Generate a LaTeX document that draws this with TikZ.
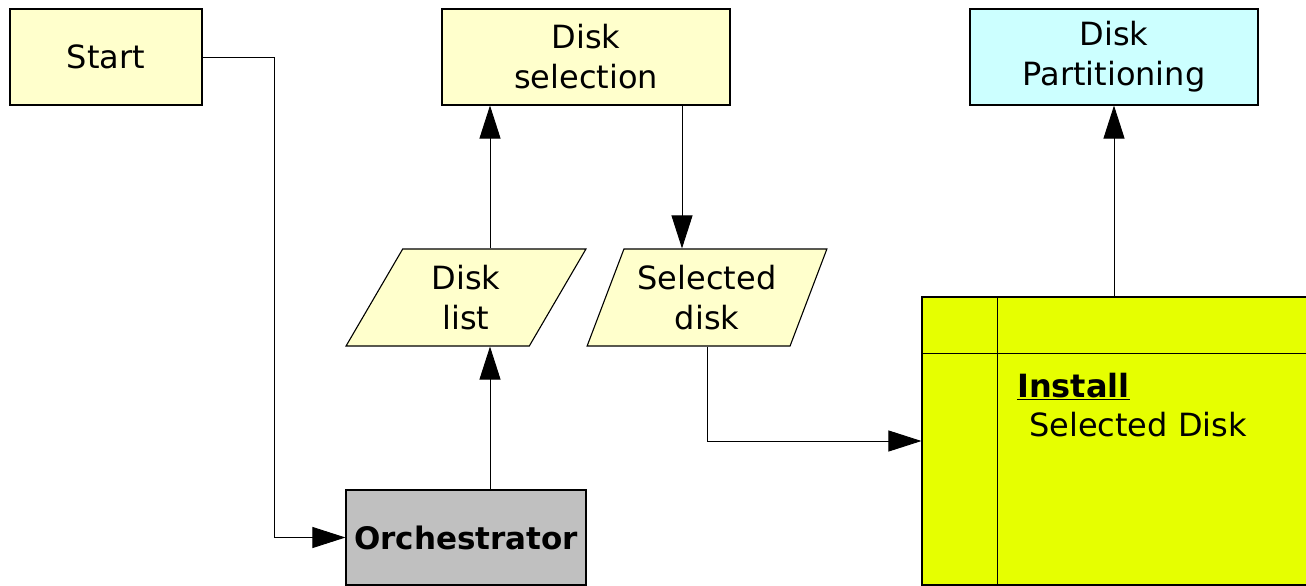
\documentclass[tikz,border=0pt]{standalone}
\usepackage{fontspec}
\setmainfont{DejaVu Sans}
\usetikzlibrary{arrows.meta,shapes.geometric}
\definecolor{paleyellow}{HTML}{FFFFCC}
\definecolor{palecyan}{HTML}{CCFFFF}
\definecolor{limey}{HTML}{E6FF00}
\definecolor{midgray}{HTML}{C0C0C0}
\begin{document}
\begin{tikzpicture}[x=1pt,y=-1pt,
  txt/.style={font=\fontsize{32}{40}\selectfont, align=center},
  boxnode/.style={txt, draw=black, line width=1.1pt, rectangle, inner sep=0pt},
  ionode/.style={txt, draw=black, line width=1.1pt, trapezium, trapezium left angle=64.6,
    trapezium right angle=115.4, trapezium stretches=true, inner sep=0pt,
    minimum width=240pt, minimum height=97pt, fill=paleyellow},
  arr/.style={line width=0.9pt, -{Triangle[length=33pt,width=21pt]}},
  ln/.style={line width=0.9pt}]
\useasboundingbox (0,0) rectangle (1306,586);

% process boxes
\node[boxnode, fill=paleyellow, minimum width=192pt, minimum height=96pt] (st) at (106,57) {Start};
\node[boxnode, fill=paleyellow, minimum width=288pt, minimum height=96pt] (ds) at (586,57) {Disk\\selection};
\node[boxnode, fill=palecyan, minimum width=288pt, minimum height=96pt] (dp) at (1114,57) {Disk\\Partitioning};
\node[boxnode, fill=midgray, minimum width=240pt, minimum height=95pt, font=\fontsize{31}{40}\selectfont\bfseries] (orch) at (466,537.5) {Orchestrator};

% data
\node[ionode] (dl) at (466,297.5) {Disk\\list};
\node[ionode] (sd) at (707,297.5) {Selected\\disk};

% install swimlane box
\node[boxnode, fill=limey, minimum width=385pt, minimum height=288pt] (inst) at (1114.5,441) {};
\draw[line width=1.1pt] ([xshift=76]inst.north west) -- ([xshift=76]inst.south west);
\draw[line width=1.1pt] ([yshift=-57]inst.north west) -- ([yshift=-57]inst.north east);
\node[txt, anchor=base west, inner sep=0pt, font=\fontsize{32}{40}\selectfont\bfseries] (insttitle) at (1017,397) {\underline{Install}};
\node[txt, anchor=base west, inner sep=0pt] (instsub) at (1029,436) {Selected Disk};

% connectors
\draw[arr] (st.east) -- ++(72,0) |- (orch.west);
\draw[arr] ([xshift=24]orch.north) -- ([xshift=24]orch.north |- dl.south);
\draw[arr] ([xshift=24]orch.north |- dl.north) -- ([xshift=-96]ds.south);
\draw[arr] ([xshift=96]ds.south) -- ([xshift=96]ds.south |- sd.north);
\draw[arr] (sd.south) |- (inst.west);
\draw[arr] (dp.south |- inst.north) -- (dp.south);
\end{tikzpicture}
\end{document}
